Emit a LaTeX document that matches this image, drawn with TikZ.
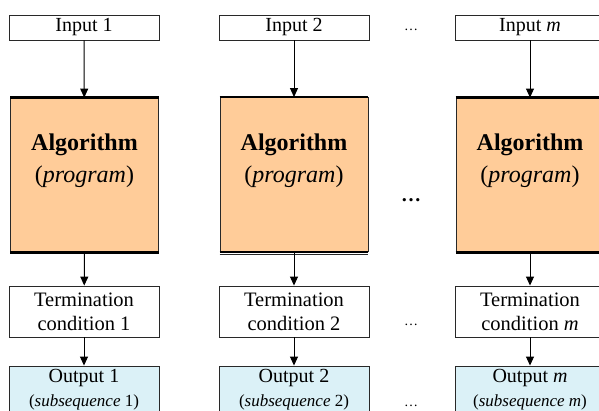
\documentclass[tikz,border=0pt]{standalone}
\usepackage{fontspec}
\setmainfont{Liberation Serif}
\usetikzlibrary{arrows.meta,calc}
\definecolor{algfill}{RGB}{255,204,153}
\definecolor{outfill}{RGB}{219,241,247}
\definecolor{edge}{RGB}{40,40,40}
\tikzset{
  inbox/.style={draw=edge, line width=0.9pt, fill=white, minimum width=150pt, minimum height=25pt, inner sep=0pt, font=\fontsize{20}{24}\selectfont},
  algbox/.style={draw=edge, line width=0.9pt, fill=algfill, minimum width=148pt, minimum height=154pt, inner sep=0pt},
  algtext/.style={align=center, inner sep=0pt, font=\fontsize{24}{32}\selectfont},
  termbox/.style={draw=edge, line width=0.9pt, fill=white, minimum width=150pt, minimum height=51pt, inner sep=0pt, align=center, font=\fontsize{20.5}{24}\selectfont},
  outbox/.style={draw=edge, line width=0.9pt, fill=outfill, minimum width=150pt, minimum height=48pt, inner sep=0pt, align=center, font=\fontsize{20}{24}\selectfont},
  dots/.style={inner sep=0pt, font=\fontsize{14}{14}\selectfont},
  bigdots/.style={inner sep=0pt, font=\fontsize{20}{20}\selectfont\bfseries},
  flow/.style={draw=black, line width=1pt, -{Triangle[length=9pt,width=8pt]}},
  thickedge/.style={draw=black, line width=2.2pt},
}
\newcommand{\subseq}[1]{{\fontsize{17}{24}\selectfont(\textit{subsequence} #1)}}
\begin{document}
\begin{tikzpicture}[x=1pt,y=-1pt]
\useasboundingbox (0,0) rectangle (599,411);
\fill[white] (0,0) rectangle (599,411);
\begin{scope}
\clip (0,0) rectangle (599,411);
% column 1
\node[inbox] (in1) at (84,27.5) {Input 1};
\node[algbox] (al1) at (84.5,175) {};
\node[algtext] (at1) at (84.5,161) {\textbf{Algorithm}\\(\textit{program})};
\node[termbox] (tc1) at (84,311.5) {Termination\\condition 1};
\node[outbox] (out1) at (84,390) {Output 1\\\subseq{1}};
% column 2
\node[inbox] (in2) at (294,27.5) {Input 2};
\node[algbox] (al2) at (294,174.5) {};
\node[algtext] (at2) at (294,161) {\textbf{Algorithm}\\(\textit{program})};
\node[termbox] (tc2) at (294,311.5) {Termination\\condition 2};
\node[outbox] (out2) at (294,390) {Output 2\\\subseq{2}};
% column 3
\node[inbox] (in3) at (530,27.5) {Input \textit{m}};
\node[algbox] (al3) at (530,175) {};
\node[algtext] (at3) at (530,161) {\textbf{Algorithm}\\(\textit{program})};
\node[termbox] (tc3) at (530,311.5) {Termination\\condition \textit{m}};
\node[outbox] (out3) at (530,390) {Output \textit{m}\\\subseq{\textit{m}}};
% thick algorithm edges
\foreach \a in {al1,al2,al3}{
  \draw[thickedge] (\a.north west) -- (\a.north east);
  \draw[thickedge] (\a.south west) -- (\a.south east);
}
\draw[edge, line width=0.9pt] ($(al2.south west)+(0,3)$) -- ($(al2.south east)+(0,3)$);
% arrows
\foreach \i in {1,2,3}{
  \draw[flow] (in\i) -- (al\i);
  \draw[flow] (al\i.south) -- (tc\i);
  \draw[flow] (tc\i) -- (out\i);
}
% ellipses
\node[dots] (d1) at (411,30) {\dots};
\node[bigdots] (d2) at (411,200) {\dots};
\node[dots] (d3) at (411,325) {\dots};
\node[dots] (d4) at (411,406) {\dots};
\end{scope}
\end{tikzpicture}
\end{document}
